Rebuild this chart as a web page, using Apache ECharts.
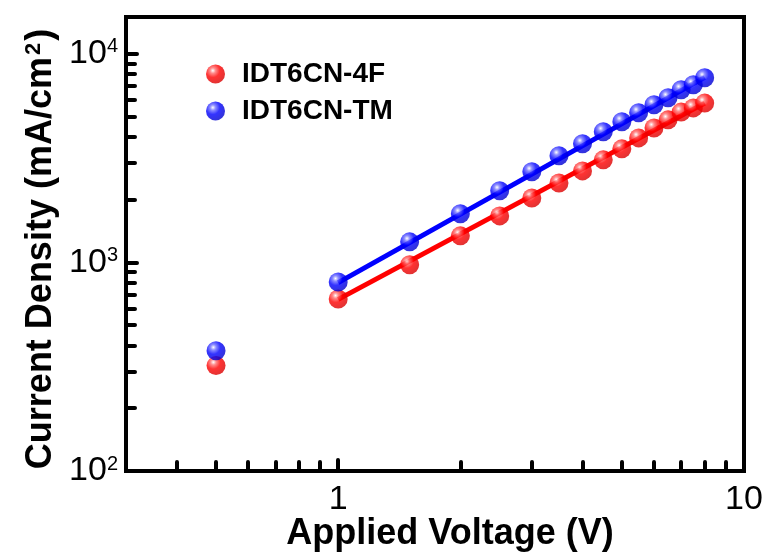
<!DOCTYPE html>
<html>
<head>
<meta charset="utf-8">
<script src="https://cdn.jsdelivr.net/npm/echarts@6/dist/echarts.min.js"></script>
<style>
  html, body { margin: 0; padding: 0; background: #fff; }
  #chart { width: 770px; height: 557px; }
</style>
</head>
<body>
<div id="chart"></div>
<script>
// Applied voltage (V)
const voltage = [0.5, 1, 1.5, 2, 2.5, 3, 3.5, 4, 4.5, 5, 5.5, 6, 6.5, 7, 7.5, 8];
// Current density (mA/cm^2)
const density4F = [320, 668, 975, 1340, 1670, 2035, 2400, 2745, 3100, 3500, 3950, 4410, 4820, 5250, 5500, 5800];
const densityTM = [377, 806, 1254, 1709, 2204, 2718, 3243, 3700, 4225, 4720, 5214, 5690, 6150, 6720, 7100, 7670];

// Fitted lines (end points)
const fitVoltage = [1, 8];
const fit4F = [665, 5800];
const fitTM = [800, 7700];

const seriesNames = ['IDT6CN-4F', 'IDT6CN-TM'];

// Tick positions
const xMajorTicks = [1, 10];
const xMinorTicks = [0.4, 0.5, 0.6, 0.7, 0.8, 0.9, 2, 3, 4, 5, 6, 7, 8, 9];
const yMajorTicks = [100, 1000, 10000];
const yMinorTicks = [200, 300, 400, 500, 600, 700, 800, 900, 2000, 3000, 4000, 5000, 6000, 7000, 8000, 9000];

const FONT = "'Liberation Sans', Arial, sans-serif";

function pairs(xs, ys) { return xs.map((x, i) => [x, ys[i]]); }

function ball(main, light, dark) {
  return {
    type: 'radial', x: 0.36, y: 0.32, r: 0.72,
    colorStops: [
      { offset: 0, color: '#ffffff' },
      { offset: 0.2, color: light },
      { offset: 0.5, color: main },
      { offset: 1, color: dark }
    ]
  };
}
const redBall = ball('#ff0000', '#ff7070', '#d80000');
const blueBall = ball('#0000ff', '#7070ff', '#0000cc');

const tickStyle = { color: '#000', width: 4, cap: 'round' };

const chart = echarts.init(document.getElementById('chart'), null, { renderer: 'canvas' });

chart.setOption({
  animation: false,
  backgroundColor: '#fff',
  grid: {
    left: 126, right: 26, top: 17, bottom: 86,
    show: true, borderColor: '#000', borderWidth: 4, backgroundColor: 'transparent'
  },
  legend: {
    data: seriesNames,
    orient: 'vertical',
    left: 201, top: 55,
    itemWidth: 19, itemHeight: 19,
    itemGap: 9,
    icon: 'circle',
    textStyle: {
      fontFamily: FONT, fontSize: 28, fontWeight: 'bold', color: '#000',
      lineHeight: 28, padding: [0, 0, 0, 12]
    }
  },
  xAxis: [
    {
      type: 'log', logBase: 10, min: 0.3, max: 10,
      axisLine: { show: true, onZero: false, lineStyle: { color: '#000', width: 4 } },
      axisTick: { show: true, inside: true, length: 11, customValues: xMajorTicks, lineStyle: tickStyle },
      axisLabel: {
        show: true, customValues: xMajorTicks, margin: 12,
        fontFamily: FONT, fontSize: 34, color: '#000',
        formatter: v => String(Math.round(v))
      },
      splitLine: { show: false }, minorTick: { show: false }
    },
    {
      type: 'log', logBase: 10, min: 0.3, max: 10, position: 'bottom', offset: 0,
      axisLine: { show: false },
      axisTick: { show: true, inside: true, length: 9, customValues: xMinorTicks, lineStyle: tickStyle },
      axisLabel: { show: false },
      splitLine: { show: false }
    }
  ],
  yAxis: [
    {
      type: 'log', logBase: 10, min: 100, max: 15000,
      axisLine: { show: true, onZero: false, lineStyle: { color: '#000', width: 4 } },
      axisTick: { show: true, inside: true, length: 11, customValues: yMajorTicks, lineStyle: tickStyle },
      axisLabel: {
        show: true, customValues: yMajorTicks, margin: 8,
        fontFamily: FONT, color: '#000',
        formatter: v => '{b|10}{s|' + Math.round(Math.log10(v)) + '}',
        rich: {
          b: { fontFamily: FONT, fontSize: 34, color: '#000', lineHeight: 34 },
          s: { fontFamily: FONT, fontSize: 20, color: '#000', verticalAlign: 'top', lineHeight: 20, padding: [0, 0, 14, 0] }
        }
      },
      splitLine: { show: false }, minorTick: { show: false }
    },
    {
      type: 'log', logBase: 10, min: 100, max: 15000, position: 'left', offset: 0,
      axisLine: { show: false },
      axisTick: { show: true, inside: true, length: 9, customValues: yMinorTicks, lineStyle: tickStyle },
      axisLabel: { show: false },
      splitLine: { show: false }
    }
  ],
  graphic: [
    {
      type: 'text',
      x: 450, y: 534,
      style: {
        text: 'Applied Voltage (V)',
        fontFamily: FONT, fontSize: 36, fontWeight: 'bold', fill: '#000',
        textAlign: 'center', textVerticalAlign: 'middle'
      }
    },
    {
      type: 'text',
      x: 41, y: 249,
      rotation: Math.PI / 2,
      style: {
        text: '{t|Current Density (mA/cm}{s|2}{t|)}',
        textAlign: 'center', textVerticalAlign: 'middle',
        rich: {
          t: { fontFamily: FONT, fontSize: 36, fontWeight: 'bold', fill: '#000', color: '#000', lineHeight: 37 },
          s: { fontFamily: FONT, fontSize: 22, fontWeight: 'bold', fill: '#000', color: '#000', verticalAlign: 'top', lineHeight: 22, padding: [0, 2, 15, 2] }
        }
      }
    }
  ],
  series: [
    {
      name: 'fit-4F', type: 'line', xAxisIndex: 0, yAxisIndex: 0,
      data: pairs(fitVoltage, fit4F), showSymbol: false, symbol: 'none',
      lineStyle: { color: '#ff0000', width: 5 }, z: 2, silent: true
    },
    {
      name: 'fit-TM', type: 'line', xAxisIndex: 0, yAxisIndex: 0,
      data: pairs(fitVoltage, fitTM), showSymbol: false, symbol: 'none',
      lineStyle: { color: '#0000ff', width: 5 }, z: 2, silent: true
    },
    {
      name: seriesNames[0], type: 'scatter', xAxisIndex: 0, yAxisIndex: 0,
      data: pairs(voltage, density4F), symbol: 'circle', symbolSize: 19,
      itemStyle: { color: redBall }, z: 3
    },
    {
      name: seriesNames[1], type: 'scatter', xAxisIndex: 0, yAxisIndex: 0,
      data: pairs(voltage, densityTM), symbol: 'circle', symbolSize: 19,
      itemStyle: { color: blueBall }, z: 4
    }
  ]
});
</script>
</body>
</html>
